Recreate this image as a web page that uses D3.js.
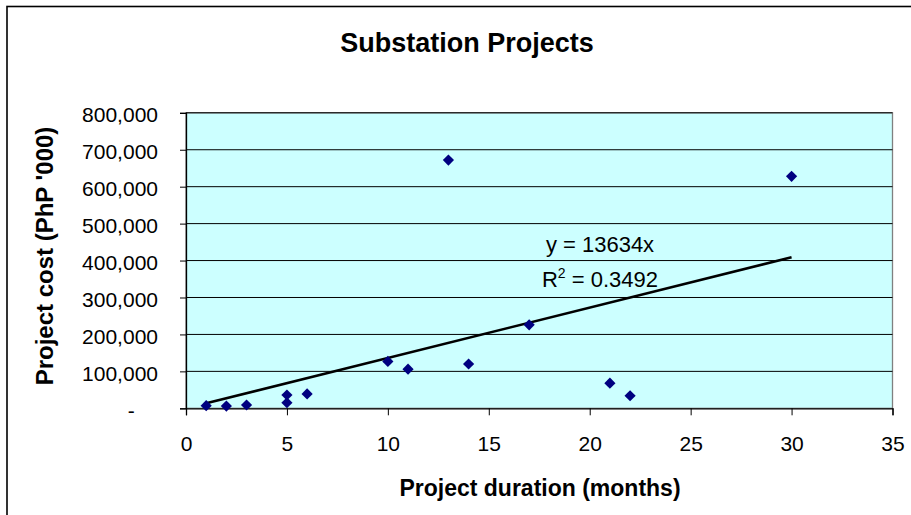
<!DOCTYPE html>
<html>
<head>
<meta charset="utf-8">
<script src="https://cdn.jsdelivr.net/npm/d3@7"></script>
<style>
  html, body { margin: 0; padding: 0; background: #fff; }
  svg { display: block; font-family: Arial, "Liberation Sans", sans-serif; }
</style>
</head>
<body>
<svg id="chart" width="911" height="515"></svg>
<script>
// Project duration (months) and cost (PhP '000) for each substation project
const durations = [1, 2, 3, 5, 5, 6, 10, 11, 13, 14, 17, 21, 22, 30];
const costs = [7000, 6000, 9000, 15000, 36000, 39000, 127000, 106000, 672000, 120000, 226000, 68000, 34000, 628000];

// Axis ticks
const xTicks = [0, 5, 10, 15, 20, 25, 30, 35];
const yTicks = [0, 100000, 200000, 300000, 400000, 500000, 600000, 700000, 800000];

// Linear trend through the origin
const trendSlope = 13634;
const trendR2 = "0.3492";
const trendRange = [1, 30];

const svg = d3.select("#chart");
const plot = { left: 186, right: 892.5, top: 112.8, bottom: 408.3 };

const x = d3.scaleLinear().domain([0, 35]).range([plot.left, plot.right]);
const y = d3.scaleLinear().domain([0, 800000]).range([plot.bottom, plot.top]);

// Outer chart frame
svg.append("rect")
  .attr("x", 7).attr("y", 6.5)
  .attr("width", 1000).attr("height", 600)
  .attr("fill", "none").attr("stroke", "#000").attr("stroke-width", 1.6);

// Title
svg.append("text")
  .attr("x", 467).attr("y", 52)
  .attr("text-anchor", "middle")
  .attr("font-size", 27).attr("font-weight", "bold")
  .text("Substation Projects");

// Plot background and border
svg.append("rect")
  .attr("x", plot.left).attr("y", plot.top)
  .attr("width", plot.right - plot.left).attr("height", plot.bottom - plot.top)
  .attr("fill", "#CCFFFF").attr("stroke", "#808080").attr("stroke-width", 1.3);

// Horizontal gridlines
svg.append("g")
  .selectAll("line")
  .data(yTicks.filter(d => d > 0))
  .join("line")
  .attr("x1", plot.left).attr("x2", plot.right)
  .attr("y1", d => y(d)).attr("y2", d => y(d))
  .attr("stroke", "#000").attr("stroke-width", 1);

// Y axis
const yFmt = d => d === 0 ? "-\u2007\u2007" : d3.format(",")(d);
const yAxis = svg.append("g")
  .attr("transform", `translate(${plot.left},0)`)
  .call(d3.axisLeft(y).tickValues(yTicks).tickSize(6).tickPadding(22).tickFormat(yFmt));
yAxis.select(".domain").attr("stroke", "#000").attr("stroke-width", 1.3);
yAxis.selectAll(".tick line").attr("stroke", "#000");
yAxis.selectAll(".tick text")
  .attr("font-size", 21).attr("fill", "#000")
  .attr("font-family", "Arial, 'Liberation Sans', sans-serif")
  .attr("dy", "0.43em");

// X axis
const xAxis = svg.append("g")
  .attr("transform", `translate(0,${plot.bottom})`)
  .call(d3.axisBottom(x).tickValues(xTicks).tickSize(7).tickPadding(21).tickFormat(d3.format("d")));
xAxis.select(".domain").attr("stroke", "#000").attr("stroke-width", 1.3);
xAxis.selectAll(".tick line").attr("stroke", "#000");
xAxis.selectAll(".tick text")
  .attr("font-size", 21).attr("fill", "#000")
  .attr("font-family", "Arial, 'Liberation Sans', sans-serif");

// Axis titles
svg.append("text")
  .attr("x", 540).attr("y", 496)
  .attr("text-anchor", "middle")
  .attr("font-size", 23).attr("font-weight", "bold")
  .text("Project duration (months)");

svg.append("text")
  .attr("transform", "translate(53,256) rotate(-90)")
  .attr("text-anchor", "middle")
  .attr("font-size", 24).attr("font-weight", "bold")
  .text("Project cost (PhP '000)");

// Trend line
svg.append("line")
  .attr("x1", x(trendRange[0])).attr("y1", y(trendSlope * trendRange[0]))
  .attr("x2", x(trendRange[1])).attr("y2", y(trendSlope * trendRange[1]))
  .attr("stroke", "#000").attr("stroke-width", 2.6);

// Data points as diamonds
const r = 5.6;
svg.append("g")
  .selectAll("path")
  .data(durations.map((d, i) => ({ x: d, y: costs[i] })))
  .join("path")
  .attr("transform", d => `translate(${x(d.x)},${y(d.y)})`)
  .attr("d", `M0,${-r}L${r},0L0,${r}L${-r},0Z`)
  .attr("fill", "#000080");

// Trend equation label
const eq = svg.append("g").attr("font-size", 22).attr("fill", "#000");
eq.append("text")
  .attr("x", 600).attr("y", 251.5)
  .attr("text-anchor", "middle")
  .text(`y = ${trendSlope}x`);
const r2 = eq.append("text")
  .attr("x", 600).attr("y", 286.5)
  .attr("text-anchor", "middle");
r2.append("tspan").text("R");
r2.append("tspan").attr("font-size", 14).attr("dy", -9).text("2");
r2.append("tspan").attr("dy", 9).text(` = ${trendR2}`);
</script>
</body>
</html>
